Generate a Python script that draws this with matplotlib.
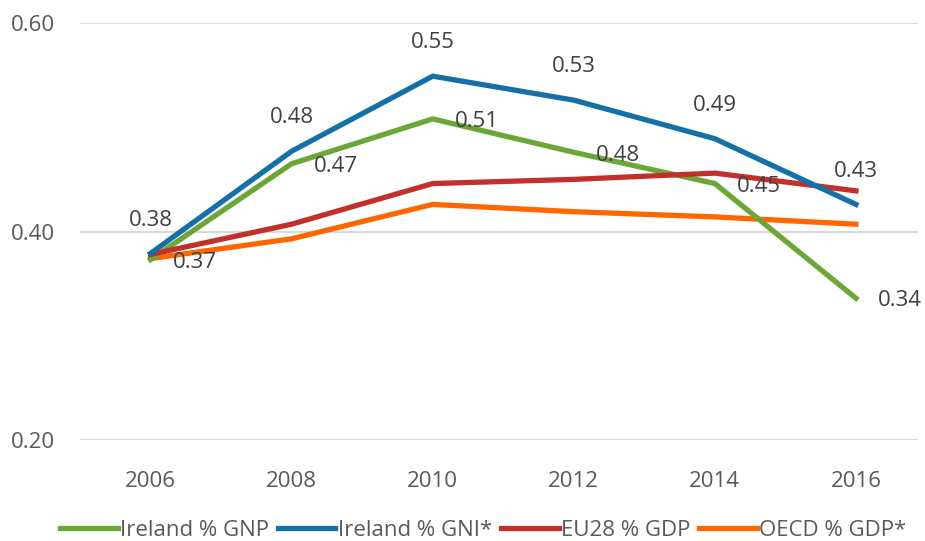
import matplotlib.pyplot as plt

plt.rcParams['font.family'] = ['Open Sans', 'DejaVu Sans']

years = ['2006', '2008', '2010', '2012', '2014', '2016']
ireland_gnp = [0.373, 0.465, 0.508, 0.476, 0.446, 0.336]
ireland_gni = [0.379, 0.477, 0.549, 0.526, 0.489, 0.426]
eu28_gdp = [0.378, 0.407, 0.446, 0.450, 0.456, 0.439]
oecd_gdp = [0.374, 0.393, 0.426, 0.419, 0.414, 0.407]

green = '#6AA737'
blue = '#1470A6'
red = '#C3302B'
orange = '#FF6600'

fig = plt.figure(figsize=(9.25, 5.41), dpi=100)
ax = fig.add_axes([80 / 925, 101 / 541, 838 / 925, 417 / 541])

x = range(len(years))
lw = 3.8
ax.plot(x, ireland_gnp, color=green, lw=lw, label='Ireland % GNP', zorder=3)
ax.plot(x, ireland_gni, color=blue, lw=lw, label='Ireland % GNI*', zorder=4)
ax.plot(x, eu28_gdp, color=red, lw=lw, label='EU28 % GDP', zorder=3)
ax.plot(x, oecd_gdp, color=orange, lw=lw, label='OECD % GDP*', zorder=2)

# data labels: blue above, green to the right
for i, v in enumerate(ireland_gni):
    ax.annotate(f'{v:.2f}', (i, v), xytext=(0, 24), textcoords='offset points',
                ha='center', va='center', fontsize=16, color='#404040', zorder=5)
for i, v in enumerate(ireland_gnp):
    ax.annotate(f'{v:.2f}', (i, v), xytext=(16, -2), textcoords='offset points',
                ha='left', va='center', fontsize=16, color='#404040', zorder=5)

ax.set_ylim(0.2, 0.6)
ax.set_yticks([0.2, 0.4, 0.6])
ax.set_yticklabels(['0.20', '0.40', '0.60'])
ax.set_xlim(-0.5, 5.44)
ax.set_xticks(list(x))
ax.set_xticklabels(years)
ax.tick_params(axis='both', length=0, labelsize=16, labelcolor='#595959')
ax.tick_params(axis='y', pad=18)
ax.tick_params(axis='x', pad=22)
ax.grid(axis='y', color='#D9D9D9', lw=1.5)
ax.set_axisbelow(True)
for s in ax.spines.values():
    s.set_visible(False)

fig.legend(loc='center', bbox_to_anchor=(483 / 925, 1 - 530 / 541), ncol=4,
           frameon=False, fontsize=16, handlelength=2.6, handletextpad=0.1,
           columnspacing=0.4, labelcolor='#595959', borderpad=0)

fig.savefig('out.png', dpi=100)
